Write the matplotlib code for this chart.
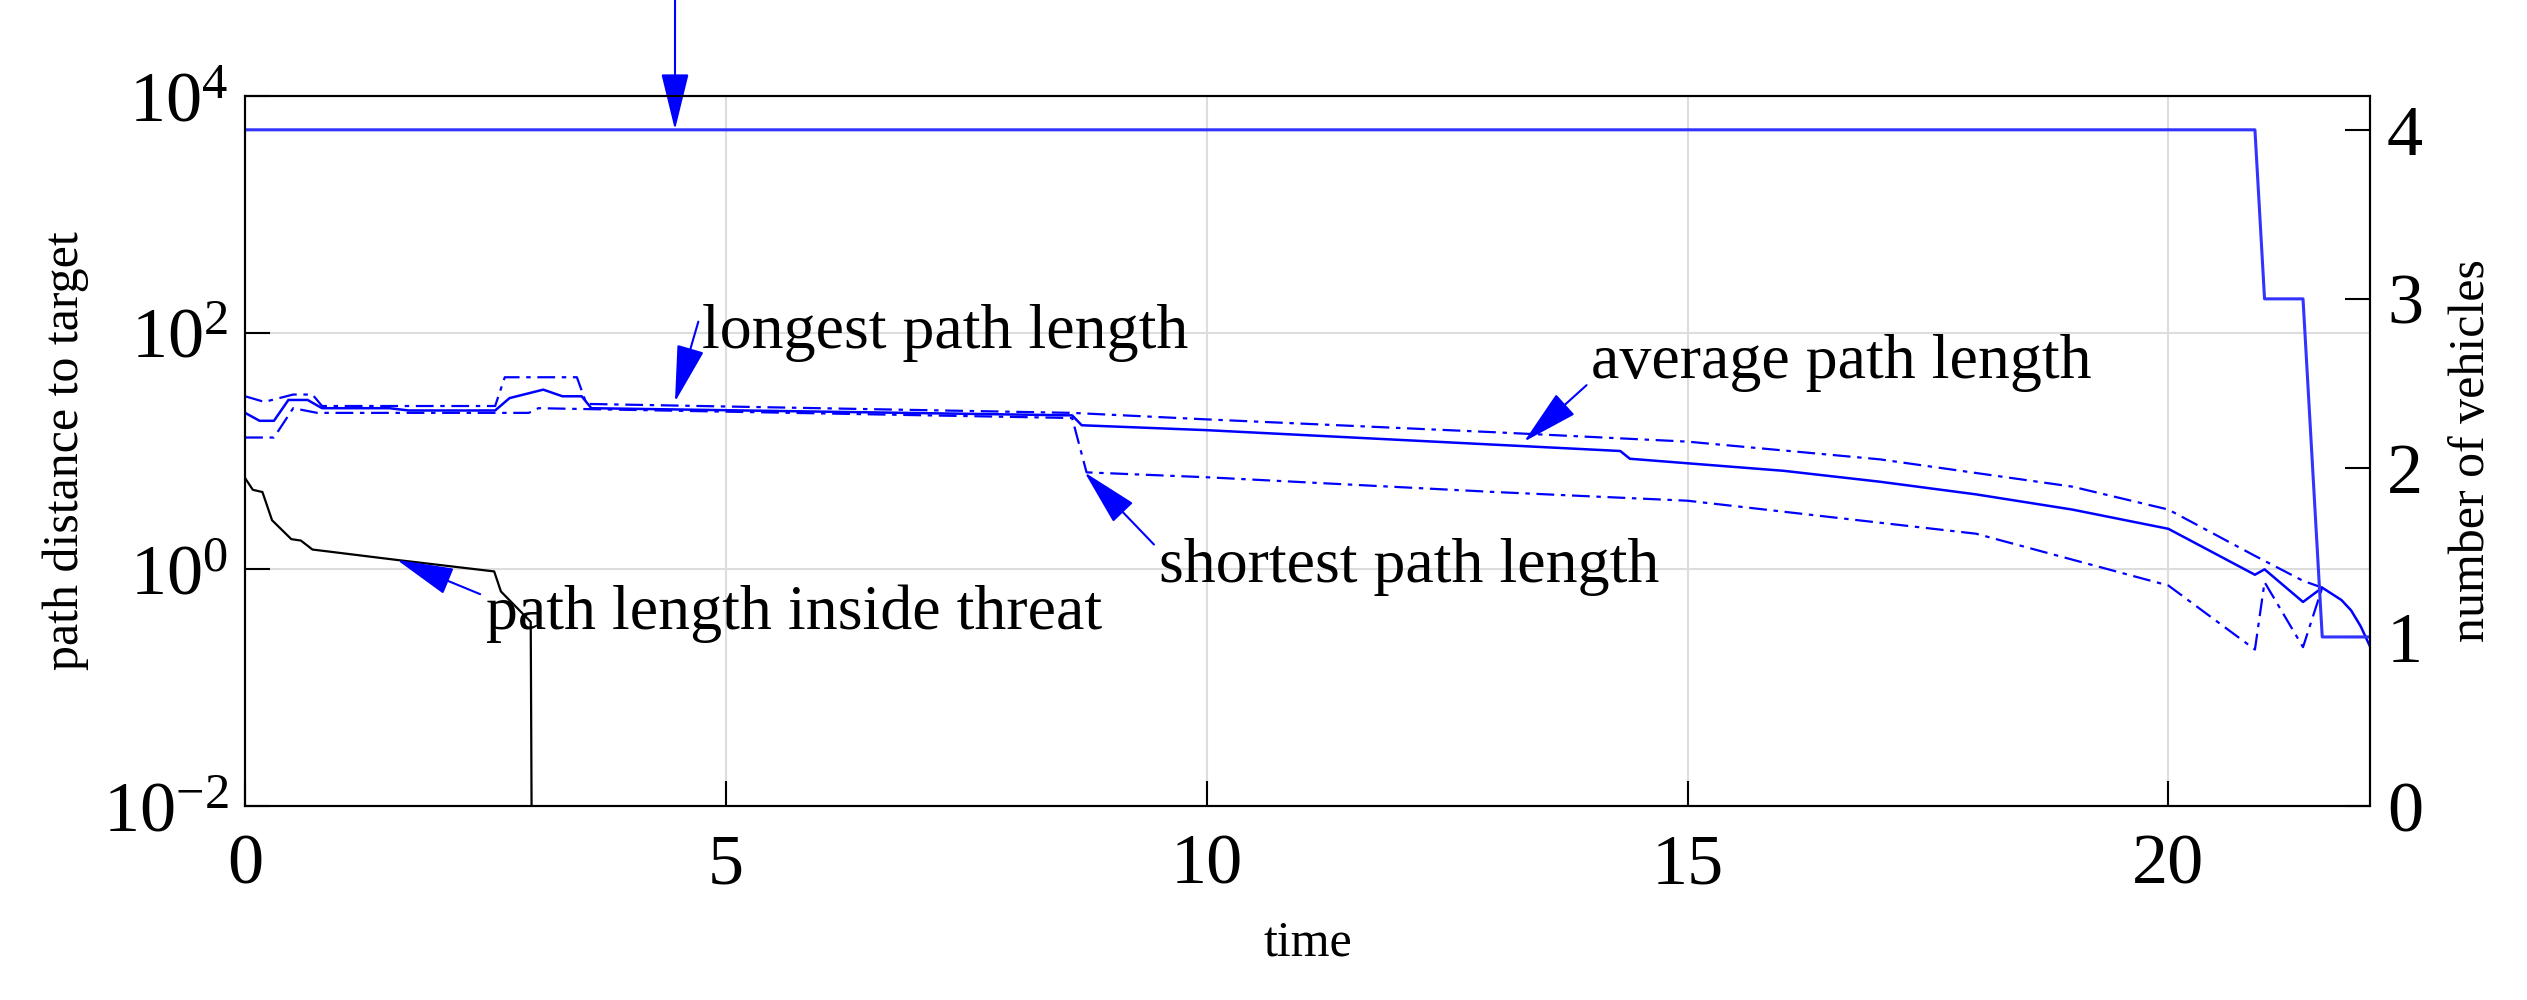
import numpy as np
import matplotlib
matplotlib.use('Agg')
from matplotlib import pyplot as plt

plt.rcParams['font.family'] = ['Liberation Serif', 'DejaVu Serif']
plt.rcParams['mathtext.fontset'] = 'custom'
plt.rcParams['mathtext.rm'] = 'Liberation Serif'
plt.rcParams['mathtext.it'] = 'Liberation Serif:italic'

# Path lengths.
t_long = [0, 0.2, 0.5, 0.7, 0.8, 2.6, 2.7, 3.45, 3.55, 8.6, 10, 13, 15, 17, 19, 20, 20.9, 21.4, 21.6]
len_long = [29, 26, 30, 30, 24, 24, 42, 42, 25, 21, 18.5, 14.4, 12, 8.5, 5, 3.2, 1.3, 0.8, 0.7]

t_avg = [0, 0.15, 0.3, 0.45, 0.65, 0.8, 1.5, 1.7, 2.6, 2.75, 3.1, 3.3, 3.5, 3.6, 8.6, 8.7, 10, 13,
         14.3, 14.4, 16, 17, 18, 19, 20, 20.9, 21.0, 21.4, 21.6, 21.8, 21.9, 22.0, 22.1]
len_avg = [21, 18, 18, 27, 27, 23, 23, 22, 22, 28, 33, 29, 29, 23, 20, 16.5, 15, 11.3,
           10, 8.6, 6.8, 5.5, 4.3, 3.2, 2.2, 0.9, 1.0, 0.53, 0.7, 0.55, 0.45, 0.33, 0.22]

t_short = [0, 0.3, 0.5, 0.75, 2.95, 3.05, 8.6, 8.75, 10, 13, 15, 18, 20, 20.9, 21.0, 21.4, 21.6]
len_short = [13, 13, 23, 21, 21, 23, 19, 6.6, 6.0, 4.5, 3.8, 2.0, 0.73, 0.21, 0.78, 0.22, 0.7]

t_threat = [0, 0.08, 0.18, 0.28, 0.48, 0.58, 0.70, 1.58, 2.59, 2.66, 2.97, 2.99]
len_threat = [5.9, 4.7, 4.5, 2.6, 1.8, 1.75, 1.47, 1.2, 0.96, 0.65, 0.36, 1e-4]

t_veh = [0, 20.9, 21.0, 21.4, 21.6, 22.1]
n_veh = [4, 4, 3, 3, 1, 1]

fig = plt.figure(figsize=(25.27, 10), dpi=100)
ax = fig.add_axes([0.097, 0.194, 0.841, 0.71])
ax2 = ax.twinx()

dd = (0, (8, 3, 2, 3))
ax.plot(t_long, len_long, color='blue', lw=1.6, linestyle=dd)
ax.plot(t_avg, len_avg, color='blue', lw=1.8)
ax.plot(t_short, len_short, color='blue', lw=1.6, linestyle=dd)
ax.plot(t_threat, len_threat, color='black', lw=1.6)
ax2.plot(t_veh, n_veh, color='#3333ff', lw=2.2)

ax.set_yscale('log')
ax.set_ylim(1e-2, 1e4)
ax.set_yticks([1e-2, 1e0, 1e2, 1e4])
ax.minorticks_off()
ax.set_xlim(0, 22.1)
ax.set_xticks([0, 5, 10, 15, 20])
ax2.set_ylim(0, 4.2)
ax2.set_yticks([0, 1, 2, 3, 4])
ax.grid(True, color='#dddddd', lw=1.5)

for a in (ax, ax2):
    a.tick_params(direction='in', length=18, width=1.5, labelsize=52, pad=12)
    for s in a.spines.values():
        s.set_linewidth(1.5)
ax.tick_params(axis='x', pad=20)

ax.set_xlabel('time', fontsize=36, labelpad=15)
ax.set_ylabel('path distance to target', fontsize=36, labelpad=10)
ax2.set_ylabel('number of vehicles', fontsize=36, labelpad=18)


def arrow(rel):
    return dict(arrowstyle='-|>,head_length=0.9,head_width=0.22', color='blue', lw=1.5,
                mutation_scale=40, shrinkA=2, shrinkB=0, relpos=rel)


fs = 46
ax.annotate('number of vehicles', xy=(4.47, 4), xycoords=ax2.transData, xytext=(5.1, 900),
            fontsize=fs, va='center', ha='left', arrowprops=arrow((0, 0.9)))
ax.annotate('longest path length', xy=(4.47, 26), xytext=(4.75, 100),
            fontsize=fs, va='center', ha='left', arrowprops=arrow((0, 0.9)))
ax.annotate('average path length', xy=(13.3, 12), xytext=(14.0, 55),
            fontsize=fs, va='center', ha='left', arrowprops=arrow((0, 0.2)))
ax.annotate('shortest path length', xy=(8.73, 6.6), xytext=(9.5, 1.05),
            fontsize=fs, va='center', ha='left', arrowprops=arrow((0, 0.8)))
ax.annotate('path length inside threat', xy=(1.58, 1.2), xytext=(2.5, 0.42),
            fontsize=fs, va='center', ha='left', arrowprops=arrow((0, 0.8)))

fig.savefig('out.png', dpi=100, facecolor='white')
